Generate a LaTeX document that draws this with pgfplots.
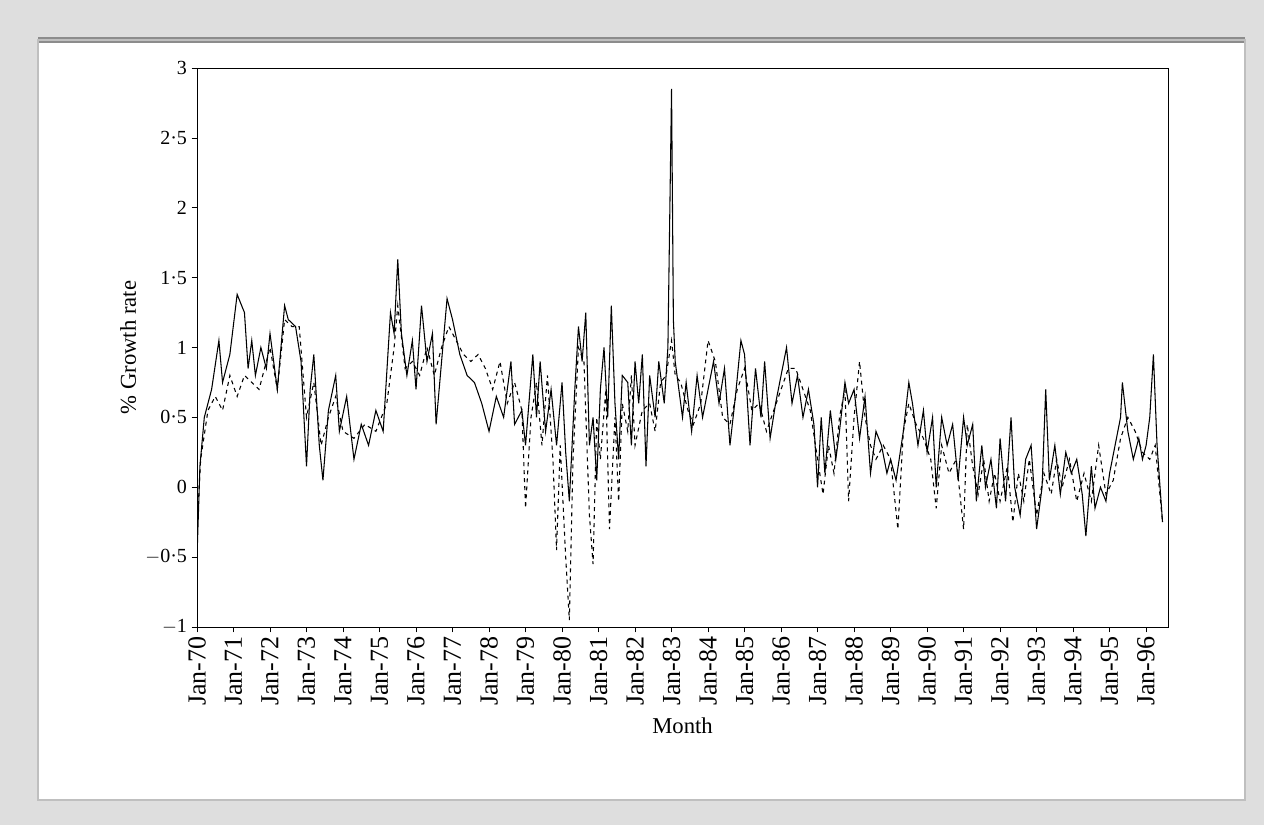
\documentclass[border=0pt]{standalone}
\usepackage{pgfplots}
\pgfplotsset{compat=1.18}
\usepackage{fontspec}
\setmainfont{Liberation Serif}
\begin{document}
\begin{tikzpicture}
\fill[black!13] (0pt,0pt) rectangle (948pt,618.75pt);
\fill[white] (28.5pt,18.75pt) rectangle (933.75pt,588.75pt);
\draw[black!45,line width=4pt] (28.5pt,588.75pt) -- (933.75pt,588.75pt);
\draw[black!25,line width=1.5pt] (28.5pt,18.75pt) rectangle (933.75pt,588.75pt);
\begin{axis}[at={(147.75pt,148.5pt)},anchor=south west,scale only axis,
 width=728.25pt,height=419.25pt,
 xmin=1970,xmax=1996.6,ymin=-1,ymax=3,
 xtick={1970,...,1996},
 xticklabels={Jan-70,Jan-71,Jan-72,Jan-73,Jan-74,Jan-75,Jan-76,Jan-77,Jan-78,Jan-79,Jan-80,Jan-81,Jan-82,Jan-83,Jan-84,Jan-85,Jan-86,Jan-87,Jan-88,Jan-89,Jan-90,Jan-91,Jan-92,Jan-93,Jan-94,Jan-95,Jan-96},
 x tick label style={rotate=90,anchor=east,font=\fontsize{19.5}{20}\selectfont,inner sep=3pt},
 ytick={-1,-0.5,0,0.5,1,1.5,2,2.5,3},
 yticklabels={$-$1,$-$0\textperiodcentered 5,0,0\textperiodcentered 5,1,1\textperiodcentered 5,2,2\textperiodcentered 5,3},
 y tick label style={font=\fontsize{15}{16}\selectfont},
 tick align=outside, tick style={black,thin}, major tick length=4pt,
 xtick pos=bottom, ytick pos=left,
 xlabel={Month}, ylabel={\% Growth rate},
 label style={font=\fontsize{17}{18}\selectfont},
 xlabel style={yshift=-2pt},
 axis line style={black,thin}]
\addplot[black,thick] coordinates {
(1970.0,-0.5)(1970.08,0.15)(1970.2,0.5)(1970.4,0.7)(1970.6,1.05)(1970.7,0.75)(1970.9,0.95)(1971.1,1.38)(1971.3,1.25)(1971.4,0.85)(1971.5,1.05)(1971.6,0.8)(1971.75,1.0)(1971.9,0.85)(1972.0,1.1)(1972.2,0.7)(1972.4,1.3)(1972.5,1.2)(1972.7,1.15)(1972.85,0.9)(1973.0,0.15)(1973.1,0.7)(1973.2,0.95)(1973.35,0.3)(1973.45,0.05)(1973.6,0.55)(1973.8,0.8)(1973.9,0.4)(1974.1,0.65)(1974.3,0.2)(1974.5,0.45)(1974.7,0.3)(1974.9,0.55)(1975.1,0.4)(1975.3,1.25)(1975.4,1.1)(1975.5,1.63)(1975.6,1.1)(1975.75,0.8)(1975.9,1.05)(1976.0,0.7)(1976.15,1.3)(1976.3,0.9)(1976.45,1.1)(1976.55,0.45)(1976.7,0.9)(1976.85,1.35)(1977.0,1.2)(1977.2,0.95)(1977.4,0.8)(1977.6,0.75)(1977.8,0.6)(1978.0,0.4)(1978.2,0.65)(1978.4,0.5)(1978.6,0.9)(1978.7,0.45)(1978.9,0.55)(1979.0,0.3)(1979.2,0.95)(1979.3,0.5)(1979.4,0.9)(1979.55,0.4)(1979.7,0.7)(1979.85,0.3)(1980.0,0.75)(1980.1,0.25)(1980.2,-0.1)(1980.35,0.7)(1980.45,1.15)(1980.55,0.9)(1980.65,1.25)(1980.75,0.3)(1980.85,0.5)(1980.95,0.05)(1981.05,0.7)(1981.15,1.0)(1981.25,0.5)(1981.35,1.3)(1981.45,0.6)(1981.55,0.2)(1981.65,0.8)(1981.8,0.75)(1981.9,0.3)(1982.0,0.9)(1982.1,0.6)(1982.2,0.95)(1982.3,0.15)(1982.4,0.8)(1982.55,0.5)(1982.65,0.9)(1982.8,0.6)(1982.9,1.0)(1983.0,2.85)(1983.05,1.2)(1983.1,0.9)(1983.2,0.7)(1983.3,0.5)(1983.4,0.75)(1983.55,0.4)(1983.7,0.8)(1983.85,0.5)(1984.0,0.7)(1984.15,0.9)(1984.3,0.6)(1984.45,0.85)(1984.6,0.3)(1984.75,0.65)(1984.9,1.05)(1985.0,0.95)(1985.15,0.3)(1985.3,0.85)(1985.45,0.5)(1985.55,0.9)(1985.7,0.35)(1985.85,0.6)(1986.0,0.8)(1986.15,1.0)(1986.3,0.6)(1986.45,0.8)(1986.6,0.5)(1986.75,0.7)(1986.9,0.45)(1987.0,0.0)(1987.1,0.5)(1987.2,0.1)(1987.35,0.55)(1987.5,0.2)(1987.6,0.4)(1987.75,0.75)(1987.85,0.6)(1988.0,0.7)(1988.15,0.35)(1988.3,0.65)(1988.45,0.1)(1988.6,0.4)(1988.75,0.3)(1988.9,0.1)(1989.0,0.2)(1989.15,0.05)(1989.35,0.4)(1989.5,0.75)(1989.6,0.6)(1989.75,0.3)(1989.9,0.55)(1990.0,0.25)(1990.15,0.5)(1990.25,0.0)(1990.4,0.5)(1990.55,0.3)(1990.7,0.45)(1990.85,0.05)(1991.0,0.5)(1991.1,0.3)(1991.25,0.45)(1991.35,-0.1)(1991.5,0.3)(1991.6,0.0)(1991.75,0.2)(1991.9,-0.15)(1992.0,0.35)(1992.15,-0.1)(1992.3,0.5)(1992.4,0.0)(1992.55,-0.2)(1992.7,0.2)(1992.85,0.3)(1993.0,-0.3)(1993.15,0.0)(1993.25,0.7)(1993.35,0.05)(1993.5,0.3)(1993.65,-0.05)(1993.8,0.25)(1993.95,0.1)(1994.1,0.2)(1994.25,-0.05)(1994.35,-0.35)(1994.5,0.15)(1994.6,-0.15)(1994.75,0.0)(1994.9,-0.1)(1995.0,0.1)(1995.15,0.3)(1995.3,0.5)(1995.35,0.75)(1995.5,0.4)(1995.65,0.2)(1995.8,0.35)(1995.9,0.2)(1996.0,0.3)(1996.1,0.5)(1996.2,0.95)(1996.3,0.3)(1996.45,-0.25)};
\addplot[black,thick,dashed] coordinates {
(1970.0,-0.3)(1970.1,0.2)(1970.3,0.55)(1970.5,0.65)(1970.7,0.55)(1970.9,0.8)(1971.1,0.65)(1971.3,0.8)(1971.5,0.75)(1971.7,0.7)(1972.0,1.0)(1972.2,0.7)(1972.4,1.2)(1972.6,1.15)(1972.8,1.15)(1973.0,0.5)(1973.2,0.75)(1973.4,0.3)(1973.6,0.5)(1973.8,0.65)(1974.0,0.4)(1974.3,0.35)(1974.6,0.45)(1974.9,0.4)(1975.2,0.6)(1975.4,1.0)(1975.5,1.3)(1975.7,0.85)(1975.9,0.9)(1976.1,0.8)(1976.3,1.0)(1976.5,0.8)(1976.7,1.0)(1976.9,1.15)(1977.1,1.05)(1977.3,0.95)(1977.5,0.9)(1977.7,0.95)(1977.9,0.85)(1978.1,0.7)(1978.3,0.9)(1978.5,0.6)(1978.7,0.75)(1978.9,0.55)(1979.0,-0.15)(1979.15,0.5)(1979.3,0.75)(1979.45,0.3)(1979.6,0.8)(1979.75,0.2)(1979.85,-0.45)(1979.95,0.3)(1980.1,-0.5)(1980.2,-0.95)(1980.3,0.2)(1980.45,1.0)(1980.6,0.9)(1980.75,-0.2)(1980.85,-0.55)(1980.95,0.5)(1981.05,0.2)(1981.2,0.7)(1981.3,-0.3)(1981.45,0.5)(1981.55,-0.1)(1981.65,0.6)(1981.8,0.4)(1981.9,0.8)(1982.0,0.3)(1982.2,0.55)(1982.4,0.6)(1982.55,0.4)(1982.7,0.75)(1982.85,0.8)(1983.0,1.05)(1983.1,0.8)(1983.25,0.75)(1983.45,0.55)(1983.6,0.45)(1983.8,0.6)(1984.0,1.05)(1984.2,0.9)(1984.4,0.5)(1984.6,0.45)(1984.8,0.7)(1985.0,0.85)(1985.2,0.55)(1985.4,0.6)(1985.6,0.4)(1985.8,0.55)(1986.0,0.7)(1986.2,0.85)(1986.4,0.85)(1986.6,0.7)(1986.8,0.55)(1987.0,0.2)(1987.15,-0.05)(1987.3,0.3)(1987.45,0.1)(1987.6,0.5)(1987.75,0.7)(1987.85,-0.1)(1988.0,0.5)(1988.15,0.9)(1988.3,0.5)(1988.45,0.3)(1988.6,0.2)(1988.8,0.3)(1989.0,0.2)(1989.2,-0.3)(1989.35,0.4)(1989.5,0.6)(1989.7,0.45)(1989.9,0.35)(1990.1,0.2)(1990.25,-0.15)(1990.4,0.3)(1990.6,0.1)(1990.8,0.2)(1991.0,-0.3)(1991.1,0.45)(1991.25,0.15)(1991.4,-0.05)(1991.55,0.2)(1991.7,-0.1)(1991.85,0.1)(1992.0,-0.1)(1992.2,0.15)(1992.35,-0.25)(1992.5,0.1)(1992.65,-0.1)(1992.8,0.2)(1993.0,-0.2)(1993.2,0.1)(1993.4,-0.05)(1993.55,0.2)(1993.7,0.0)(1993.9,0.2)(1994.1,-0.1)(1994.3,0.1)(1994.5,-0.1)(1994.7,0.3)(1994.9,-0.05)(1995.1,0.05)(1995.3,0.35)(1995.5,0.5)(1995.7,0.4)(1995.9,0.25)(1996.1,0.2)(1996.25,0.3)(1996.45,-0.25)};
\end{axis}
\end{tikzpicture}
\end{document}
